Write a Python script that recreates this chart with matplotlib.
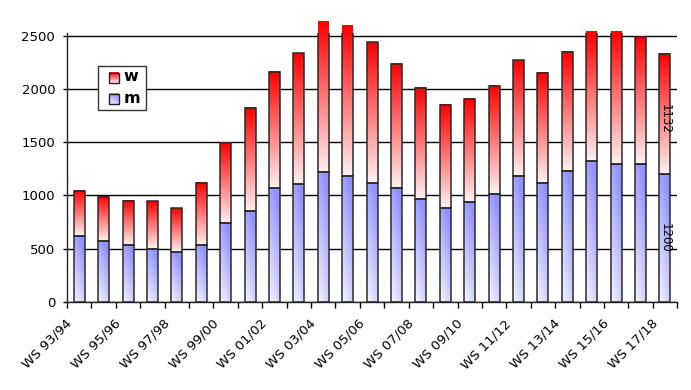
import matplotlib
matplotlib.use("Agg")
import matplotlib.pyplot as plt
import numpy as np
from matplotlib.patches import Rectangle
from matplotlib.transforms import ScaledTranslation

# winter semesters, one bar each
seasons = ["WS 93/94", "WS 94/95", "WS 95/96", "WS 96/97", "WS 97/98",
           "WS 98/99", "WS 99/00", "WS 00/01", "WS 01/02", "WS 02/03",
           "WS 03/04", "WS 04/05", "WS 05/06", "WS 06/07", "WS 07/08",
           "WS 08/09", "WS 09/10", "WS 10/11", "WS 11/12", "WS 12/13",
           "WS 13/14", "WS 14/15", "WS 15/16", "WS 16/17", "WS 17/18"]
m = [620, 570, 530, 500, 470, 530, 740, 850, 1070, 1110,
     1220, 1180, 1120, 1070, 965, 880, 940, 1010, 1180, 1120,
     1230, 1325, 1295, 1295, 1200]
w = [425, 415, 415, 445, 410, 590, 755, 970, 1095, 1230,
     1420, 1415, 1325, 1170, 1050, 975, 970, 1020, 1090, 1035,
     1120, 1220, 1250, 1195, 1132]
y_ticks = [0, 500, 1000, 1500, 2000, 2500]

BAR_W = 0.45


def red_grad(n=64):
    # pure red on top fading to pale pink at the bottom
    t = np.linspace(0, 1, n)[:, None]
    top = np.array([1.0, 0.0, 0.0])
    bot = np.array([1.0, 0.94, 0.94])
    img = top * (1 - t[..., None]) + bot * t[..., None]
    return img


def blue_grad(n=64, k=16):
    # diagonal: blue at top right, almost white at bottom left
    gy = np.linspace(1, 0, n)[:, None]
    gx = np.linspace(0, 1, k)[None, :]
    s = np.clip(0.8 * gy + 0.35 * gx, 0, 1)[..., None]
    hi = np.array([0.57, 0.57, 1.0])
    lo = np.array([0.96, 0.96, 1.0])
    return lo * (1 - s) + hi * s


fig = plt.figure(figsize=(6.91, 3.9), dpi=100)
ax = fig.add_axes([0.097, 0.2264, 0.883, 0.6895])

x = np.arange(len(seasons))
m = np.array(m)
w = np.array(w)

for i in x:
    x0, x1 = i - BAR_W / 2, i + BAR_W / 2
    ax.imshow(blue_grad(), extent=(x0, x1, 0, m[i]), aspect="auto",
              zorder=2, clip_on=False, interpolation="bilinear")
    ax.imshow(red_grad(), extent=(x0, x1, m[i], m[i] + w[i]), aspect="auto",
              zorder=2, clip_on=False, interpolation="bilinear")
    for y0, h in [(0, m[i]), (m[i], w[i])]:
        ax.add_patch(Rectangle((x0, y0), BAR_W, h, fill=False,
                               edgecolor="#2a2a2a", lw=1.1, zorder=3))

# value labels on the last bar
last = len(seasons) - 1
ax.text(last, m[last] / 2, str(m[last]), rotation=270, ha="center",
        va="center", fontsize=8.5, zorder=4)
ax.text(last, m[last] + w[last] / 2 - 50, str(w[last]), rotation=270,
        ha="center", va="center", fontsize=8.5, zorder=4)

ax.set_xlim(-0.5, len(seasons) - 0.5)
ax.set_ylim(0, 2530)

ax.set_yticks(y_ticks)
ax.tick_params(axis="y", length=3, width=1, pad=5.5, labelsize=9.5)
ax.grid(axis="y", color="black", lw=1.0)
ax.set_axisbelow(True)

# tick marks between categories, labels on every second one
ax.set_xticks(np.arange(-0.5, len(seasons), 1.0))
ax.set_xticklabels([])
ax.tick_params(axis="x", which="major", length=4, width=1, direction="out")
ax.set_xticks(x[::2], seasons[::2], minor=True)
ax.tick_params(axis="x", which="minor", length=0, pad=11, labelsize=9.5)
shift = ScaledTranslation(-5 / 100, 0, fig.dpi_scale_trans)
for lab in ax.get_xticklabels(minor=True):
    lab.set_rotation(45)
    lab.set_ha("right")
    lab.set_transform(lab.get_transform() + shift)

for side in ["top", "right"]:
    ax.spines[side].set_visible(False)
for side in ["left", "bottom"]:
    ax.spines[side].set_color("#222222")
    ax.spines[side].set_linewidth(1.0)

# hand made legend with gradient swatches
ax.add_patch(Rectangle((0.0508, 0.713), 0.0787, 0.1635, transform=ax.transAxes,
                       facecolor="white", edgecolor="#333333", lw=1.0,
                       zorder=5, clip_on=False))
ax.imshow(red_grad(), extent=(0.069, 0.0852, 0.8144, 0.8516),
          transform=ax.transAxes, aspect="auto", zorder=6, clip_on=False)
ax.imshow(blue_grad(), extent=(0.069, 0.0852, 0.7352, 0.7724),
          transform=ax.transAxes, aspect="auto", zorder=6, clip_on=False)
for y0 in [0.8144, 0.7352]:
    ax.add_patch(Rectangle((0.069, y0), 0.0162, 0.0372, transform=ax.transAxes,
                           fill=False, edgecolor="#222222", lw=1.0,
                           zorder=7, clip_on=False))
ax.text(0.093, 0.838, "w", transform=ax.transAxes, fontsize=11.5,
        fontweight="bold", va="center", zorder=7)
ax.text(0.093, 0.756, "m", transform=ax.transAxes, fontsize=11.5,
        fontweight="bold", va="center", zorder=7)

ax.set_xlim(-0.5, len(seasons) - 0.5)
ax.set_ylim(0, 2530)

fig.savefig("out.png", dpi=100)
